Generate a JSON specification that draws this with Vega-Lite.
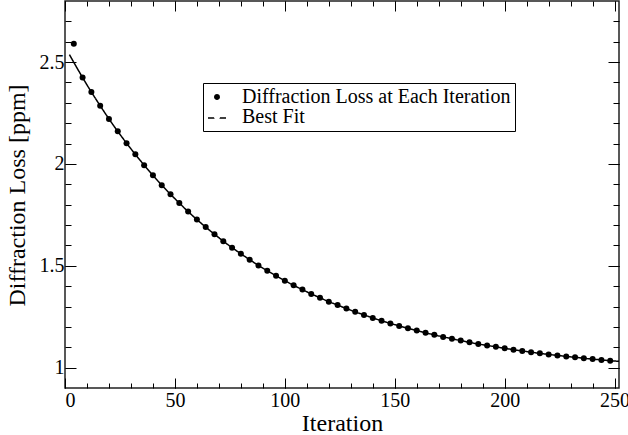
{
  "$schema": "https://vega.github.io/schema/vega-lite/v6.json",
  "width": 554,
  "height": 387,
  "autosize": {"type": "none"},
  "padding": {"left": 65, "top": 1, "right": 9, "bottom": 47},
  "background": "white",
  "config": {
    "view": {"stroke": "#222", "strokeWidth": 1.5},
    "font": "Liberation Serif",
    "axis": {
      "domain": false,
      "grid": false,
      "tickColor": "#000",
      "tickWidth": 1,
      "labelFont": "Liberation Serif",
      "labelFontSize": 20,
      "labelColor": "#000",
      "titleFont": "Liberation Serif",
      "titleFontSize": 24,
      "titleFontWeight": "normal",
      "titleColor": "#000"
    }
  },
  "datasets": {
    "pts": [
      {"iter": 4, "loss": 2.59, "series": "Diffraction Loss at Each Iteration"},
      {"iter": 8, "loss": 2.424, "series": "Diffraction Loss at Each Iteration"},
      {"iter": 12, "loss": 2.353, "series": "Diffraction Loss at Each Iteration"},
      {"iter": 16, "loss": 2.286, "series": "Diffraction Loss at Each Iteration"},
      {"iter": 20, "loss": 2.221, "series": "Diffraction Loss at Each Iteration"},
      {"iter": 24, "loss": 2.160, "series": "Diffraction Loss at Each Iteration"},
      {"iter": 28, "loss": 2.102, "series": "Diffraction Loss at Each Iteration"},
      {"iter": 32, "loss": 2.047, "series": "Diffraction Loss at Each Iteration"},
      {"iter": 36, "loss": 1.994, "series": "Diffraction Loss at Each Iteration"},
      {"iter": 40, "loss": 1.944, "series": "Diffraction Loss at Each Iteration"},
      {"iter": 44, "loss": 1.896, "series": "Diffraction Loss at Each Iteration"},
      {"iter": 48, "loss": 1.851, "series": "Diffraction Loss at Each Iteration"},
      {"iter": 52, "loss": 1.808, "series": "Diffraction Loss at Each Iteration"},
      {"iter": 56, "loss": 1.766, "series": "Diffraction Loss at Each Iteration"},
      {"iter": 60, "loss": 1.727, "series": "Diffraction Loss at Each Iteration"},
      {"iter": 64, "loss": 1.690, "series": "Diffraction Loss at Each Iteration"},
      {"iter": 68, "loss": 1.655, "series": "Diffraction Loss at Each Iteration"},
      {"iter": 72, "loss": 1.621, "series": "Diffraction Loss at Each Iteration"},
      {"iter": 76, "loss": 1.589, "series": "Diffraction Loss at Each Iteration"},
      {"iter": 80, "loss": 1.559, "series": "Diffraction Loss at Each Iteration"},
      {"iter": 84, "loss": 1.530, "series": "Diffraction Loss at Each Iteration"},
      {"iter": 88, "loss": 1.502, "series": "Diffraction Loss at Each Iteration"},
      {"iter": 92, "loss": 1.476, "series": "Diffraction Loss at Each Iteration"},
      {"iter": 96, "loss": 1.451, "series": "Diffraction Loss at Each Iteration"},
      {"iter": 100, "loss": 1.427, "series": "Diffraction Loss at Each Iteration"},
      {"iter": 104, "loss": 1.404, "series": "Diffraction Loss at Each Iteration"},
      {"iter": 108, "loss": 1.383, "series": "Diffraction Loss at Each Iteration"},
      {"iter": 112, "loss": 1.362, "series": "Diffraction Loss at Each Iteration"},
      {"iter": 116, "loss": 1.343, "series": "Diffraction Loss at Each Iteration"},
      {"iter": 120, "loss": 1.324, "series": "Diffraction Loss at Each Iteration"},
      {"iter": 124, "loss": 1.307, "series": "Diffraction Loss at Each Iteration"},
      {"iter": 128, "loss": 1.290, "series": "Diffraction Loss at Each Iteration"},
      {"iter": 132, "loss": 1.274, "series": "Diffraction Loss at Each Iteration"},
      {"iter": 136, "loss": 1.259, "series": "Diffraction Loss at Each Iteration"},
      {"iter": 140, "loss": 1.244, "series": "Diffraction Loss at Each Iteration"},
      {"iter": 144, "loss": 1.230, "series": "Diffraction Loss at Each Iteration"},
      {"iter": 148, "loss": 1.217, "series": "Diffraction Loss at Each Iteration"},
      {"iter": 152, "loss": 1.205, "series": "Diffraction Loss at Each Iteration"},
      {"iter": 156, "loss": 1.193, "series": "Diffraction Loss at Each Iteration"},
      {"iter": 160, "loss": 1.182, "series": "Diffraction Loss at Each Iteration"},
      {"iter": 164, "loss": 1.171, "series": "Diffraction Loss at Each Iteration"},
      {"iter": 168, "loss": 1.161, "series": "Diffraction Loss at Each Iteration"},
      {"iter": 172, "loss": 1.151, "series": "Diffraction Loss at Each Iteration"},
      {"iter": 176, "loss": 1.142, "series": "Diffraction Loss at Each Iteration"},
      {"iter": 180, "loss": 1.133, "series": "Diffraction Loss at Each Iteration"},
      {"iter": 184, "loss": 1.124, "series": "Diffraction Loss at Each Iteration"},
      {"iter": 188, "loss": 1.116, "series": "Diffraction Loss at Each Iteration"},
      {"iter": 192, "loss": 1.109, "series": "Diffraction Loss at Each Iteration"},
      {"iter": 196, "loss": 1.102, "series": "Diffraction Loss at Each Iteration"},
      {"iter": 200, "loss": 1.095, "series": "Diffraction Loss at Each Iteration"},
      {"iter": 204, "loss": 1.088, "series": "Diffraction Loss at Each Iteration"},
      {"iter": 208, "loss": 1.082, "series": "Diffraction Loss at Each Iteration"},
      {"iter": 212, "loss": 1.076, "series": "Diffraction Loss at Each Iteration"},
      {"iter": 216, "loss": 1.070, "series": "Diffraction Loss at Each Iteration"},
      {"iter": 220, "loss": 1.065, "series": "Diffraction Loss at Each Iteration"},
      {"iter": 224, "loss": 1.060, "series": "Diffraction Loss at Each Iteration"},
      {"iter": 228, "loss": 1.055, "series": "Diffraction Loss at Each Iteration"},
      {"iter": 232, "loss": 1.051, "series": "Diffraction Loss at Each Iteration"},
      {"iter": 236, "loss": 1.046, "series": "Diffraction Loss at Each Iteration"},
      {"iter": 240, "loss": 1.042, "series": "Diffraction Loss at Each Iteration"},
      {"iter": 244, "loss": 1.038, "series": "Diffraction Loss at Each Iteration"},
      {"iter": 248, "loss": 1.034, "series": "Diffraction Loss at Each Iteration"}
    ],
    "fit": [
      {"iter": 2, "loss": 2.537}, {"iter": 4, "loss": 2.499}, {"iter": 8, "loss": 2.424},
      {"iter": 12, "loss": 2.353}, {"iter": 16, "loss": 2.286}, {"iter": 20, "loss": 2.221},
      {"iter": 24, "loss": 2.160}, {"iter": 28, "loss": 2.102}, {"iter": 32, "loss": 2.047},
      {"iter": 36, "loss": 1.994}, {"iter": 40, "loss": 1.944}, {"iter": 44, "loss": 1.896},
      {"iter": 48, "loss": 1.851}, {"iter": 52, "loss": 1.808}, {"iter": 56, "loss": 1.766},
      {"iter": 60, "loss": 1.727}, {"iter": 64, "loss": 1.690}, {"iter": 68, "loss": 1.655},
      {"iter": 72, "loss": 1.621}, {"iter": 76, "loss": 1.589}, {"iter": 80, "loss": 1.559},
      {"iter": 84, "loss": 1.530}, {"iter": 88, "loss": 1.502}, {"iter": 92, "loss": 1.476},
      {"iter": 96, "loss": 1.451}, {"iter": 100, "loss": 1.427}, {"iter": 104, "loss": 1.404},
      {"iter": 108, "loss": 1.383}, {"iter": 112, "loss": 1.362}, {"iter": 116, "loss": 1.343},
      {"iter": 120, "loss": 1.324}, {"iter": 124, "loss": 1.307}, {"iter": 128, "loss": 1.290},
      {"iter": 132, "loss": 1.274}, {"iter": 136, "loss": 1.259}, {"iter": 140, "loss": 1.244},
      {"iter": 144, "loss": 1.230}, {"iter": 148, "loss": 1.217}, {"iter": 152, "loss": 1.205},
      {"iter": 156, "loss": 1.193}, {"iter": 160, "loss": 1.182}, {"iter": 164, "loss": 1.171},
      {"iter": 168, "loss": 1.161}, {"iter": 172, "loss": 1.151}, {"iter": 176, "loss": 1.142},
      {"iter": 180, "loss": 1.133}, {"iter": 184, "loss": 1.124}, {"iter": 188, "loss": 1.116},
      {"iter": 192, "loss": 1.109}, {"iter": 196, "loss": 1.102}, {"iter": 200, "loss": 1.095},
      {"iter": 204, "loss": 1.088}, {"iter": 208, "loss": 1.082}, {"iter": 212, "loss": 1.076},
      {"iter": 216, "loss": 1.070}, {"iter": 220, "loss": 1.065}, {"iter": 224, "loss": 1.060},
      {"iter": 228, "loss": 1.055}, {"iter": 232, "loss": 1.051}, {"iter": 236, "loss": 1.046},
      {"iter": 240, "loss": 1.042}, {"iter": 244, "loss": 1.038}, {"iter": 248, "loss": 1.034},
      {"iter": 252, "loss": 1.031}
    ]
  },
  "resolve": {"axis": {"x": "independent", "y": "independent"}},
  "layer": [
    {
      "data": {"name": "fit"},
      "mark": {"type": "line", "color": "#000", "strokeWidth": 1.5, "clip": true, "interpolate": "monotone"},
      "encoding": {
        "x": {"field": "iter", "type": "quantitative", "scale": {"domain": [0, 252], "nice": false, "zero": false},
          "axis": {"orient": "bottom", "values": [0, 10, 20, 30, 40, 50, 60, 70, 80, 90, 100, 110, 120, 130, 140, 150, 160, 170, 180, 190, 200, 210, 220, 230, 240, 250], "tickSize": -5, "labels": false, "title": null}},
        "y": {"field": "loss", "type": "quantitative", "scale": {"domain": [0.9, 2.8], "nice": false, "zero": false},
          "axis": {"orient": "left", "values": [1, 1.1, 1.2, 1.3, 1.4, 1.5, 1.6, 1.7, 1.8, 1.9, 2, 2.1, 2.2, 2.3, 2.4, 2.5, 2.6, 2.7], "tickSize": -6, "labels": false, "title": null}},
        "strokeDash": {"datum": "Best Fit", "type": "nominal",
          "scale": {"domain": ["Best Fit"], "range": [[1, 0]]},
          "legend": {
            "title": null,
            "orient": "none",
            "legendX": 142,
            "legendY": 107,
            "padding": 0,
            "symbolType": "stroke",
            "symbolSize": 324,
            "symbolStrokeWidth": 1.5,
            "symbolStrokeColor": "#000",
            "symbolDash": [1, 0],
            "labelExpr": "''",
            "labelFontSize": 1,
            "labelOffset": 0
          }}
      }
    },
    {
      "data": {"name": "fit"},
      "mark": {"type": "line", "strokeOpacity": 0, "clip": true},
      "encoding": {
        "x": {"field": "iter", "type": "quantitative",
          "axis": {"orient": "top", "values": [0, 50, 100, 150, 200, 250], "tickSize": -10, "labels": false, "title": null}},
        "y": {"field": "loss", "type": "quantitative",
          "axis": {"orient": "right", "values": [1, 1.5, 2, 2.5], "tickSize": -11, "labels": false, "title": null}}
      }
    },
    {
      "data": {"name": "fit"},
      "mark": {"type": "line", "strokeOpacity": 0, "clip": true},
      "encoding": {
        "x": {"field": "iter", "type": "quantitative",
          "axis": {"orient": "top", "values": [0, 10, 20, 30, 40, 50, 60, 70, 80, 90, 100, 110, 120, 130, 140, 150, 160, 170, 180, 190, 200, 210, 220, 230, 240, 250], "tickSize": -5, "labels": false, "title": null}},
        "y": {"field": "loss", "type": "quantitative",
          "axis": {"orient": "right", "values": [1, 1.1, 1.2, 1.3, 1.4, 1.5, 1.6, 1.7, 1.8, 1.9, 2, 2.1, 2.2, 2.3, 2.4, 2.5, 2.6, 2.7], "tickSize": -6, "labels": false, "title": null}}
      }
    },
    {
      "data": {"name": "pts"},
      "mark": {"type": "point", "shape": "circle", "filled": true, "opacity": 1, "size": 36, "strokeWidth": 0},
      "encoding": {
        "x": {"field": "iter", "type": "quantitative",
          "axis": {"orient": "bottom", "values": [0, 50, 100, 150, 200, 250], "format": "d", "tickSize": -10, "labelPadding": 12, "title": "Iteration", "titleBaseline": "alphabetic", "titleY": 42, "titleX": 277, "titleAlign": "center"}},
        "y": {"field": "loss", "type": "quantitative",
          "axis": {"orient": "left", "values": [1, 1.5, 2, 2.5], "format": "~g", "tickSize": -11, "labelPadding": 12, "title": "Diffraction Loss [ppm]", "titleBaseline": "alphabetic", "titleX": -41, "titleY": 194, "titleAlign": "center", "titleAngle": -90}},
        "color": {"field": "series", "type": "nominal",
          "scale": {"domain": ["Diffraction Loss at Each Iteration", "Best Fit"], "range": ["#000000", "#ffffff"]},
          "legend": {
            "title": null,
            "orient": "none",
            "legendX": 138,
            "legendY": 82,
            "strokeColor": "#000",
            "padding": 4,
            "symbolType": "M-0.33,0A0.33,0.33 0 1,0 0.33,0A0.33,0.33 0 1,0 -0.33,0Z",
            "symbolSize": 324,
            "symbolStrokeWidth": 0,
            "symbolOpacity": 1,
            "labelFont": "Liberation Serif",
            "labelFontSize": 20,
            "labelColor": "#000",
            "labelOffset": 15,
            "labelLimit": 400,
            "rowPadding": -1
          }}
      }
    }
  ]
}
